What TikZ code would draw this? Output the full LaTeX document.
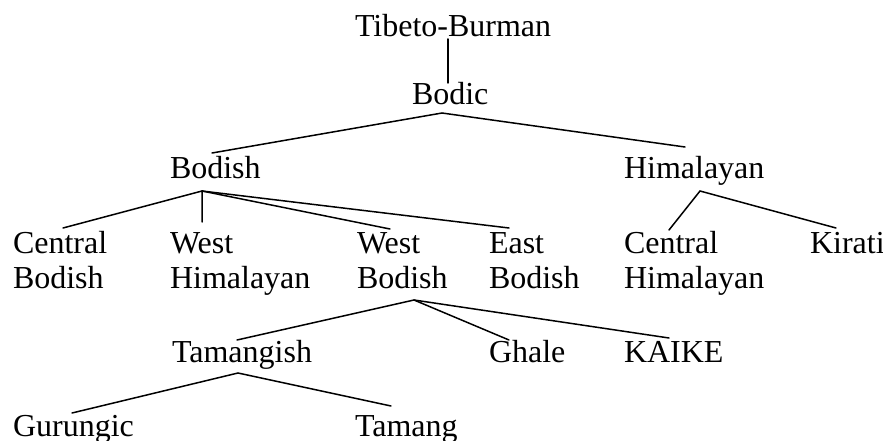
\documentclass[tikz,border=0pt]{standalone}
\usepackage{fontspec}
\setmainfont{Liberation Serif}
\tikzset{
  x=1pt,y=-1pt,
  lbl/.style={anchor=base west,inner sep=0pt,outer sep=0pt,font=\fontsize{32}{35}\selectfont},
  edge/.style={line width=1.5pt,line cap=round}
}
\newcommand{\twoline}[2]{\begin{tabular}[t]{@{}l@{}}#1\\#2\end{tabular}}
\begin{document}
\begin{tikzpicture}
\useasboundingbox[fill=white] (0,0) rectangle (883,441);
% nodes
\node[lbl] (tb) at (355,37) {Tibeto-Burman};
\node[lbl] (bodic) at (412,105) {Bodic};
\node[lbl] (bodish) at (170,178) {Bodish};
\node[lbl] (himal) at (624,178) {Himalayan};
\node[lbl] (cb) at (13,253) {\twoline{Central}{Bodish}};
\node[lbl] (wh) at (170,253) {\twoline{West}{Himalayan}};
\node[lbl] (wb) at (357,253) {\twoline{West}{Bodish}};
\node[lbl] (eb) at (489,253) {\twoline{East}{Bodish}};
\node[lbl] (ch) at (624,253) {\twoline{Central}{Himalayan}};
\node[lbl] (kir) at (810,253) {Kirati};
\node[lbl] (tam) at (172,362) {Tamangish};
\node[lbl] (gha) at (489,362) {Ghale};
\node[lbl] (kai) at (624,362) {KAIKE};
\node[lbl] (gur) at (13,436) {Gurungic};
\node[lbl] (tmg) at (355,436) {Tamang};
% connectors
\draw[edge] ([shift={(93,2)}]tb.base west) -- ([shift={(36,-22)}]bodic.base west);
\draw[edge] ([shift={(42,-25)}]bodish.base west) -- ([shift={(30,8)}]bodic.base west) -- ([shift={(61,-31)}]himal.base west);
\draw[edge] ([shift={(50,-25)}]cb.base west) -- ([shift={(32,13)}]bodish.base west) -- ([shift={(32,-31)}]wh.base west);
\draw[edge] ([shift={(32,13)}]bodish.base west) -- ([shift={(33,-24)}]wb.base west);
\draw[edge] ([shift={(32,13)}]bodish.base west) -- ([shift={(20,-25)}]eb.base west);
\draw[edge] ([shift={(45,-23)}]ch.base west) -- ([shift={(76,13)}]himal.base west) -- ([shift={(26,-25)}]kir.base west);
\draw[edge] ([shift={(65,-22)}]tam.base west) -- ([shift={(57,47)}]wb.base west) -- ([shift={(20,-22)}]gha.base west);
\draw[edge] ([shift={(57,47)}]wb.base west) -- ([shift={(45,-24)}]kai.base west);
\draw[edge] ([shift={(59,-23)}]gur.base west) -- ([shift={(66,11)}]tam.base west) -- ([shift={(36,-30)}]tmg.base west);
\end{tikzpicture}
\end{document}
